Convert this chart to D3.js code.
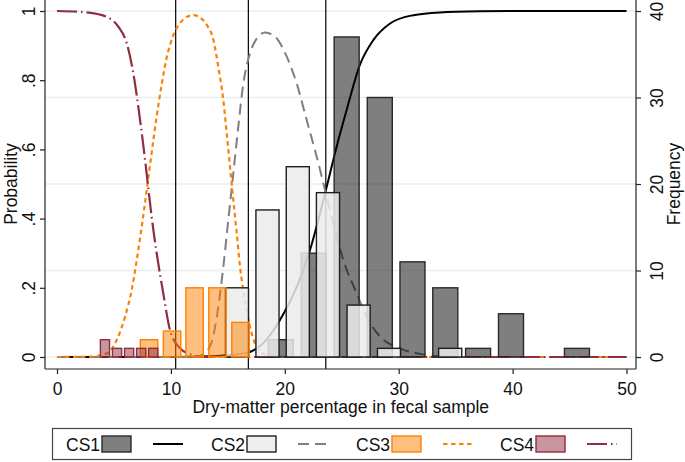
<!DOCTYPE html>
<html><head><meta charset="utf-8">
<script src="https://cdn.jsdelivr.net/npm/d3@7"></script>
<style>
body{margin:0;background:#fff}
text{font-family:"Liberation Sans",Arial,Helvetica,sans-serif;fill:#111}
</style>
</head><body>
<svg id="chart" width="685" height="462"></svg>
<script>
// ---------------- data ----------------
const xTicks = [0, 10, 20, 30, 40, 50];
const probTicks = [0, 0.2, 0.4, 0.6, 0.8, 1];
const probTickLabels = ["0", ".2", ".4", ".6", ".8", "1"];
const freqTicks = [0, 10, 20, 30, 40];
const cutPoints = [10.42, 16.8, 23.6];
const seriesNames = ["CS1", "CS2", "CS3", "CS4"];
const xTitle = "Dry-matter percentage in fecal sample";
const yLeftTitle = "Probability";
const yRightTitle = "Frequency";

// histograms (bin centres, frequencies, bin width)
const cs1BinCenters = [19.65, 22.54, 25.43, 28.34, 31.21, 34.09, 36.97, 39.86, 45.65];
const cs1Freq       = [2, 12, 37, 30, 11, 8, 1, 5, 1];
const cs1BinWidth   = 2.89;
const cs2BinCenters = [15.8, 18.48, 21.14, 23.79, 26.48, 29.15, 34.52];
const cs2Freq       = [8, 17, 22, 19, 6, 1, 1];
const cs2BinWidth   = 2.67;
const cs3BinCenters = [8.08, 10.1, 12.08, 14.09, 16.11];
const cs3Freq       = [2, 3, 8, 8, 4];
const cs3BinWidth   = 2.01;
const cs4BinCenters = [4.21, 5.27, 6.33, 7.39, 8.45];
const cs4Freq       = [2, 1, 1, 1, 1];
const cs4BinWidth   = 1.06;

// probability curves
const cs1CurveX = [0, 10, 14, 16.65, 18.11, 19.58, 21.05, 22.21, 23.09, 23.68, 24.55, 25.43, 26.6, 27.77, 29.24, 31.28, 33.6, 37.1, 42, 50];
const cs1CurveP = [0, 0, 0.003, 0.012, 0.04, 0.107, 0.203, 0.309, 0.415, 0.492, 0.608, 0.714, 0.845, 0.916, 0.964, 0.988, 0.996, 0.999, 1, 1];
const cs2CurveX = [0, 11, 12.3, 13.0, 13.6, 14.16, 14.6, 15.04, 15.48, 15.92, 16.36, 16.94, 17.53, 18.26, 19.14, 20.17, 21.05, 21.92, 22.8, 23.53, 24.26, 25.14, 26.31, 27.19, 28.36, 30.1, 31.87, 33.6, 36, 50];
const cs2CurveP = [0, 0, 0.002, 0.012, 0.045, 0.145, 0.26, 0.396, 0.531, 0.666, 0.79, 0.877, 0.92, 0.938, 0.926, 0.868, 0.79, 0.685, 0.579, 0.483, 0.386, 0.28, 0.184, 0.116, 0.059, 0.025, 0.009, 0.002, 0, 0];
const cs3CurveX = [0, 2.9, 4.36, 5.24, 5.97, 6.56, 7.0, 7.44, 7.88, 8.31, 8.75, 9.2, 9.63, 10.21, 10.8, 11.4, 11.97, 12.6, 13.15, 13.73, 14.16, 14.6, 14.9, 15.19, 15.48, 15.78, 16.07, 16.5, 16.94, 17.53, 18.4, 20, 50];
const cs3CurveP = [0, 0.001, 0.01, 0.049, 0.116, 0.194, 0.28, 0.377, 0.483, 0.59, 0.695, 0.79, 0.865, 0.93, 0.965, 0.983, 0.988, 0.98, 0.96, 0.916, 0.839, 0.743, 0.647, 0.55, 0.454, 0.358, 0.261, 0.165, 0.088, 0.03, 0.006, 0, 0];
const cs4CurveX = [0, 2.6, 4.36, 5.38, 6.12, 6.7, 7.14, 7.52, 7.87, 8.31, 8.75, 9.33, 9.92, 10.8, 11.97, 13, 50];
const cs4CurveP = [1, 0.996, 0.983, 0.955, 0.907, 0.82, 0.723, 0.627, 0.531, 0.405, 0.30, 0.184, 0.078, 0.025, 0.005, 0, 0];

// ---------------- styles ----------------
const styles = [
  {fill:"#000000", fillOp:0.5,  stroke:"#2a2a2a", line:"#000000", dash:null,          lw:2.0},
  {fill:"#ebebeb", fillOp:0.85, stroke:"#1e1e1e", line:"#7f7f7f", dash:"11,6",        lw:2.0},
  {fill:"#ff8000", fillOp:0.5,  stroke:"#ff8000", line:"#ff8000", dash:"4.5,3.5",     lw:2.2},
  {fill:"#902d3e", fillOp:0.5,  stroke:"#902d3e", line:"#902d3e", dash:"20,4,1.5,4",  lw:2.2}
];
const hists = [
  {c:cs1BinCenters, f:cs1Freq, w:cs1BinWidth},
  {c:cs2BinCenters, f:cs2Freq, w:cs2BinWidth},
  {c:cs3BinCenters, f:cs3Freq, w:cs3BinWidth},
  {c:cs4BinCenters, f:cs4Freq, w:cs4BinWidth}
];
const curves = [
  {x:cs1CurveX, p:cs1CurveP},
  {x:cs2CurveX, p:cs2CurveP},
  {x:cs3CurveX, p:cs3CurveP},
  {x:cs4CurveX, p:cs4CurveP}
];

const FS = 17.5;
const plot = {left:45, right:636, top:0, bottom:369};
const x  = d3.scaleLinear().domain([0, 50]).range([57, 626.5]);
const yP = d3.scaleLinear().domain([0, 1]).range([357, 11]);
const yF = d3.scaleLinear().domain([0, 40]).range([357, 11]);

const svg = d3.select("#chart");

// gridlines (frequency axis)
svg.append("g").selectAll("line").data(freqTicks).join("line")
  .attr("x1", plot.left).attr("x2", plot.right)
  .attr("y1", d => yF(d)).attr("y2", d => yF(d))
  .attr("stroke", "#e6eff1").attr("stroke-width", 1.3);

// cut-point vertical lines
svg.append("g").selectAll("line").data(cutPoints).join("line")
  .attr("x1", d => x(d)).attr("x2", d => x(d))
  .attr("y1", plot.top).attr("y2", plot.bottom)
  .attr("stroke", "#000").attr("stroke-width", 1.2);

// curves
const lineGen = d3.line().curve(d3.curveMonotoneX);
curves.forEach((cv, i) => {
  const pts = cv.x.map((v, k) => [x(v), yP(cv.p[k])]);
  svg.append("path").attr("d", lineGen(pts))
    .attr("fill", "none").attr("stroke", styles[i].line)
    .attr("stroke-width", styles[i].lw)
    .attr("stroke-dasharray", styles[i].dash);
});

// histogram bars
const barFrac = 0.76;
hists.forEach((h, i) => {
  const data = h.c.map((c, k) => ({c, f: h.f[k]}));
  svg.append("g").selectAll("rect").data(data).join("rect")
    .attr("x", d => x(d.c - h.w * barFrac / 2))
    .attr("width", d => x(d.c + h.w * barFrac / 2) - x(d.c - h.w * barFrac / 2))
    .attr("y", d => yF(d.f))
    .attr("height", d => yF(0) - yF(d.f))
    .attr("fill", styles[i].fill).attr("fill-opacity", styles[i].fillOp)
    .attr("stroke", styles[i].stroke).attr("stroke-width", 1.4);
});

// axes
const axisColor = "#222";
// bottom
const gx = svg.append("g").attr("transform", `translate(0,${plot.bottom})`)
  .call(d3.axisBottom(x).tickValues(xTicks).tickFormat(d3.format("d")).tickSize(5).tickSizeOuter(0));
gx.select(".domain").remove();
gx.selectAll("line").attr("stroke", axisColor).attr("stroke-width", 1.2);
gx.selectAll("text").attr("font-size", FS).attr("font-family", null).attr("y", 13).attr("dy", "0.72em").attr("fill", "#111");
svg.append("line").attr("x1", plot.left).attr("x2", plot.right).attr("y1", plot.bottom).attr("y2", plot.bottom)
  .attr("stroke", axisColor).attr("stroke-width", 1.2);

// left
const gl = svg.append("g").attr("transform", `translate(${plot.left},0)`)
  .call(d3.axisLeft(yP).tickValues(probTicks).tickFormat((d, i) => probTickLabels[i]).tickSize(5).tickSizeOuter(0));
gl.select(".domain").remove();
gl.selectAll("line").attr("stroke", axisColor).attr("stroke-width", 1.2);
gl.selectAll("text").attr("font-size", FS).attr("font-family", null)
  .attr("transform", "rotate(-90)").attr("x", 0).attr("y", -10).attr("dy", 0)
  .attr("text-anchor", "middle").attr("fill", "#111");
svg.append("line").attr("x1", plot.left).attr("x2", plot.left).attr("y1", plot.top).attr("y2", plot.bottom)
  .attr("stroke", axisColor).attr("stroke-width", 1.2);

// right
const gr = svg.append("g").attr("transform", `translate(${plot.right},0)`)
  .call(d3.axisRight(yF).tickValues(freqTicks).tickFormat(d3.format("d")).tickSize(5).tickSizeOuter(0));
gr.select(".domain").remove();
gr.selectAll("line").attr("stroke", axisColor).attr("stroke-width", 1.2);
gr.selectAll("text").attr("font-size", FS).attr("font-family", null)
  .attr("transform", "rotate(-90)").attr("x", 0).attr("y", 27).attr("dy", 0)
  .attr("text-anchor", "middle").attr("fill", "#111");
svg.append("line").attr("x1", plot.right).attr("x2", plot.right).attr("y1", plot.top).attr("y2", plot.bottom)
  .attr("stroke", axisColor).attr("stroke-width", 1.2);

// axis titles
svg.append("text").attr("x", (x(0) + x(50)) / 2 - 1).attr("y", 413).attr("text-anchor", "middle")
  .attr("font-size", FS).text(xTitle);
svg.append("text").attr("transform", `translate(17,${yP(0.5)}) rotate(-90)`).attr("text-anchor", "middle")
  .attr("font-size", FS).text(yLeftTitle);
svg.append("text").attr("transform", `translate(680,${yF(20)}) rotate(-90)`).attr("text-anchor", "middle")
  .attr("font-size", FS).text(yRightTitle);

// legend
const leg = svg.append("g");
leg.append("rect").attr("x", 52.5).attr("y", 428.5).attr("width", 579).attr("height", 31)
  .attr("fill", "#fff").attr("stroke", "#444").attr("stroke-width", 1.2);
const legStartX = [66, 211, 356, 500];
seriesNames.forEach((name, i) => {
  const x0 = legStartX[i];
  leg.append("text").attr("x", x0).attr("y", 451).attr("font-size", FS).text(name);
  leg.append("rect").attr("x", x0 + 36).attr("y", 436).attr("width", 29).attr("height", 16)
    .attr("fill", styles[i].fill).attr("fill-opacity", styles[i].fillOp)
    .attr("stroke", styles[i].stroke).attr("stroke-width", 1.4);
  leg.append("line").attr("x1", x0 + 87).attr("x2", x0 + 117).attr("y1", 444).attr("y2", 444)
    .attr("stroke", styles[i].line).attr("stroke-width", styles[i].lw)
    .attr("stroke-dasharray", styles[i].dash);
});
</script>
</body></html>
